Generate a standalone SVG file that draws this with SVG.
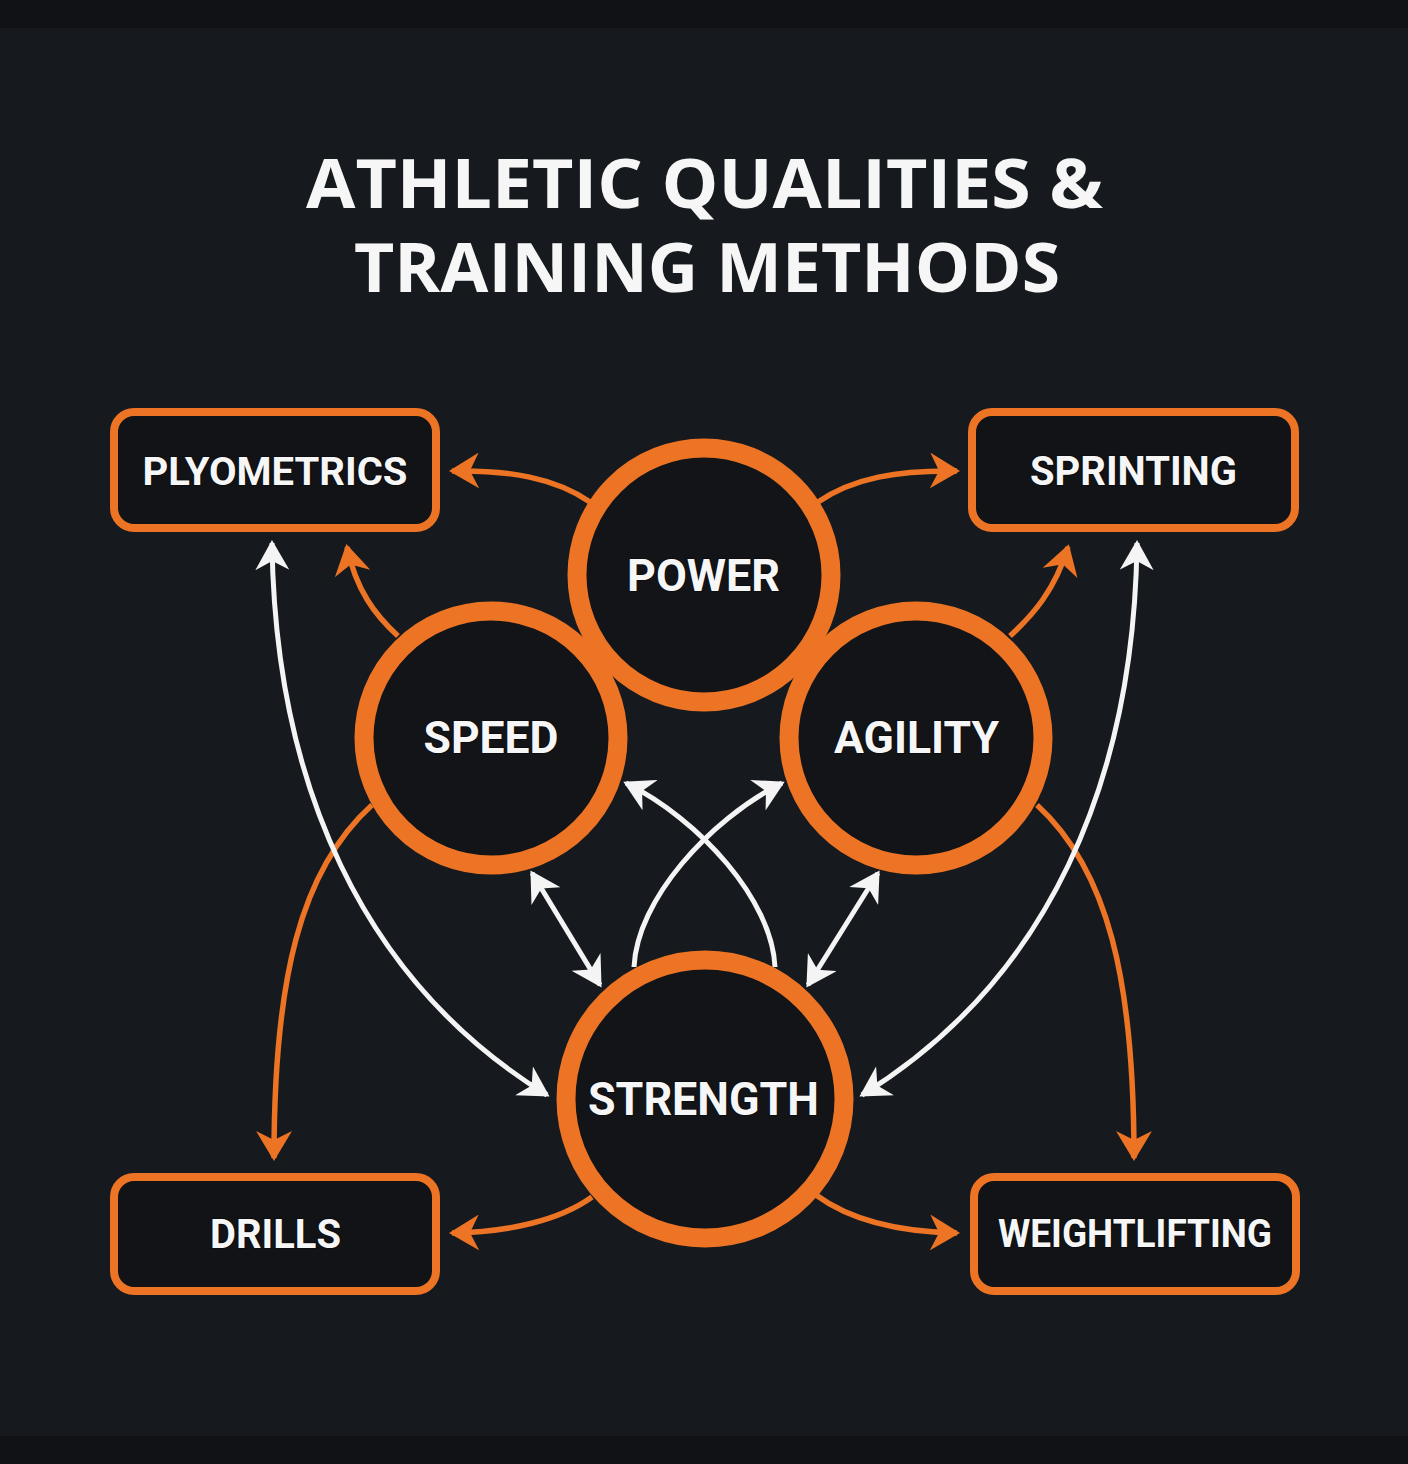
<svg xmlns="http://www.w3.org/2000/svg" width="1408" height="1464" viewBox="0 0 1408 1464">
  <defs>
    <style>
      .title { font-family: "Open Sans", "Liberation Sans", sans-serif; font-weight: 700; font-size: 68px; fill: #F6F6F6; text-anchor: middle; }
      .lbl { font-family: Roboto, "Liberation Sans", sans-serif; font-weight: 700; fill: #F6F6F6; text-anchor: middle; paint-order: stroke; stroke: #0c0d10; stroke-width: 2px; }
      .box rect { fill: #111317; stroke: #EC7424; stroke-width: 8; }
      .circ circle { fill: #121418; stroke: #EC7424; stroke-width: 19; }
      .oc { fill: none; stroke: #EC7424; stroke-width: 5.5; marker-end: url(#ah-o); }
      .wc { fill: none; stroke: #F4F4F4; stroke-width: 5; }
      .wc1 { marker-end: url(#ah-w); }
      .wc2 { marker-start: url(#ah-w); marker-end: url(#ah-w); }
    </style>
    <marker id="ah-o" viewBox="0 0 30 36" refX="27" refY="18" markerWidth="30" markerHeight="36" markerUnits="userSpaceOnUse" orient="auto">
      <path d="M0,0 L30,18 L0,36 L9,18 Z" fill="#EC7424"/>
    </marker>
    <marker id="ah-w" viewBox="0 0 30 34" refX="27" refY="17" markerWidth="30" markerHeight="34" markerUnits="userSpaceOnUse" orient="auto-start-reverse">
      <path d="M0,0 L30,17 L0,34 L9,17 Z" fill="#F4F4F4"/>
    </marker>
  </defs>

  <rect x="0" y="0" width="1408" height="1464" fill="#111216"/>
  <rect x="0" y="28" width="1408" height="1408" fill="#161a1e"/>

  <g id="title">
    <text class="title" x="704.5" y="208" textLength="797" lengthAdjust="spacingAndGlyphs">ATHLETIC QUALITIES &amp;</text>
    <text class="title" x="707" y="292" textLength="706" lengthAdjust="spacingAndGlyphs">TRAINING METHODS</text>
  </g>

  <g id="connectors">
    <path class="oc" d="M590,502 C555,478 510,470 452,471"/>
    <path class="oc" d="M398,636 C375,615 356,590 347,547"/>
    <path class="oc" d="M818,502 C853,478 898,470 957,471"/>
    <path class="oc" d="M1010,636 C1033,615 1055,590 1068,547"/>
    <path class="oc" d="M372,805 C300,870 274,980 274,1158"/>
    <path class="oc" d="M1037,805 C1108,870 1134,980 1134,1158"/>
    <path class="oc" d="M592,1197 C560,1220 510,1232 452,1233"/>
    <path class="oc" d="M816,1195 C850,1220 900,1232 957,1233"/>
    <path class="wc wc2" d="M272,543 C275,780 360,980 547,1095"/>
    <path class="wc wc2" d="M1137,543 C1134,780 1049,980 862,1095"/>
    <path class="wc wc2" d="M532,873 L600,985"/>
    <path class="wc wc2" d="M878,873 L808,985"/>
    <path class="wc wc1" d="M775,967 C772,900 700,820 626,783"/>
    <path class="wc wc1" d="M634,967 C637,900 709,820 782,783"/>
  </g>

  <g id="plyometrics" class="box">
    <rect x="114" y="412" width="322" height="116" rx="20"/>
    <text class="lbl" x="275" y="485" font-size="39" textLength="265" lengthAdjust="spacingAndGlyphs">PLYOMETRICS</text>
  </g>
  <g id="sprinting" class="box">
    <rect x="972" y="412" width="323" height="116" rx="20"/>
    <text class="lbl" x="1133.5" y="485" font-size="40" textLength="207" lengthAdjust="spacingAndGlyphs">SPRINTING</text>
  </g>
  <g id="drills" class="box">
    <rect x="114" y="1177" width="322" height="114" rx="20"/>
    <text class="lbl" x="275.5" y="1248" font-size="40" textLength="131" lengthAdjust="spacingAndGlyphs">DRILLS</text>
  </g>
  <g id="weightlifting" class="box">
    <rect x="974" y="1177" width="322" height="114" rx="20"/>
    <text class="lbl" x="1135" y="1247" font-size="38" textLength="274" lengthAdjust="spacingAndGlyphs">WEIGHTLIFTING</text>
  </g>

  <g id="power" class="circ">
    <circle cx="704" cy="575" r="127"/>
    <text class="lbl" x="703.5" y="591" font-size="44" textLength="153" lengthAdjust="spacingAndGlyphs">POWER</text>
  </g>
  <g id="speed" class="circ">
    <circle cx="491" cy="738" r="127"/>
    <text class="lbl" x="491" y="753" font-size="44" textLength="135" lengthAdjust="spacingAndGlyphs">SPEED</text>
  </g>
  <g id="agility" class="circ">
    <circle cx="916" cy="738" r="127"/>
    <text class="lbl" x="916.5" y="753" font-size="44" textLength="165" lengthAdjust="spacingAndGlyphs">AGILITY</text>
  </g>
  <g id="strength" class="circ">
    <circle cx="705" cy="1099" r="139"/>
    <text class="lbl" x="703.5" y="1115" font-size="46" textLength="231" lengthAdjust="spacingAndGlyphs">STRENGTH</text>
  </g>
</svg>
